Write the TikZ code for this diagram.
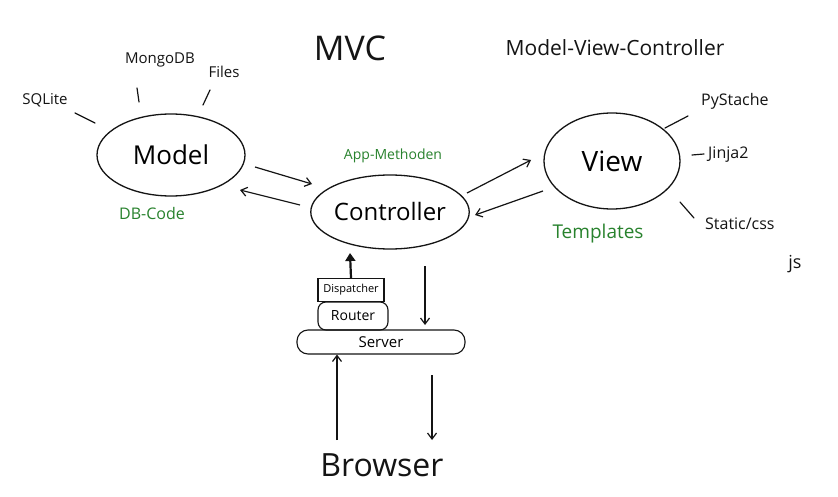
\documentclass[tikz,border=0pt]{standalone}
\usepackage{fontspec}
\setmainfont{Open Sans}
\usetikzlibrary{arrows.meta,shapes.geometric}
\definecolor{pen}{RGB}{20,20,20}
\definecolor{greenpen}{RGB}{40,130,45}
\tikzset{
  ell/.style={draw=pen,ellipse,line width=1.3pt,inner sep=0pt},
  lbl/.style={text=pen,inner sep=1pt},
  glbl/.style={text=greenpen,inner sep=1pt},
  tick/.style={draw=pen,line width=1.2pt,line cap=round},
  arr/.style={draw=pen,line width=1.2pt,-{Straight Barb[length=6pt,width=9pt]}},
  boxx/.style={draw=pen,line width=1.1pt,inner sep=0pt}
}
\begin{document}
\begin{tikzpicture}[x=1pt,y=-1pt]
\useasboundingbox[fill=white] (0,0) rectangle (838,497);
% title
\node[lbl,font=\fontsize{34}{36}\selectfont] (mvc) at (350,48) {MVC};
\node[lbl,font=\fontsize{21}{23}\selectfont] (full) at (615,48) {Model-View-Controller};
% Model
\node[ell,minimum width=148pt,minimum height=82pt,font=\fontsize{26}{28}\selectfont] (model) at (171,155) {Model};
\node[glbl,font=\fontsize{16}{18}\selectfont] (dbcode) at (152,214) {DB-Code};
\node[lbl,font=\fontsize{15}{17}\selectfont] (sqlite) at (45,100) {SQLite};
\node[lbl,font=\fontsize{15}{17}\selectfont] (mongo) at (160,60) {MongoDB};
\node[lbl,font=\fontsize{15}{17}\selectfont] (files) at (224,72) {Files};
\coordinate (s1) at (75,113); \coordinate (s2) at (95,123);
\coordinate (m1) at (137,88); \coordinate (m2) at (139,102);
\coordinate (f1) at (210,90); \coordinate (f2) at (203,105);
\draw[tick] (s1) -- (s2);
\draw[tick] (m1) -- (m2);
\draw[tick] (f1) -- (f2);
% Controller
\node[ell,minimum width=158pt,minimum height=74pt,font=\fontsize{24}{26}\selectfont] (ctrl) at (390,212) {Controller};
\node[glbl,font=\fontsize{14}{16}\selectfont] (app) at (393,156) {App-Methoden};
% View
\node[ell,minimum width=136pt,minimum height=96pt,font=\fontsize{28}{30}\selectfont] (view) at (612,161) {View};
\node[glbl,font=\fontsize{19}{21}\selectfont] (tmpl) at (598,234) {Templates};
\node[lbl,font=\fontsize{16}{18}\selectfont,anchor=west] (pystache) at (700,101) {PyStache};
\node[lbl,font=\fontsize{16}{18}\selectfont,anchor=west] (jinja) at (707,155) {Jinja2};
\node[lbl,font=\fontsize{16}{18}\selectfont,anchor=west] (static) at (704,224) {Static/css};
\node[lbl,font=\fontsize{18}{20}\selectfont] (js) at (795,264) {js};
\coordinate (p1) at (665,128); \coordinate (p2) at (688,116);
\coordinate (j1) at (692,155); \coordinate (j2) at (704,154);
\coordinate (t1) at (680,202); \coordinate (t2) at (694,218);
\draw[tick] (p1) -- (p2);
\draw[tick] (j1) -- (j2);
\draw[tick] (t1) -- (t2);
% arrows model <-> controller
\coordinate (a1) at (255,167); \coordinate (a2) at (312,184);
\coordinate (b1) at (300,205); \coordinate (b2) at (240,190);
\draw[arr] (a1) -- (a2);
\draw[arr] (b1) -- (b2);
% arrows controller <-> view
\coordinate (c1) at (467,193); \coordinate (c2) at (531,160);
\coordinate (d1) at (543,191); \coordinate (d2) at (475,215);
\draw[arr] (c1) -- (c2);
\draw[arr] (d1) -- (d2);
% server stack
\node[boxx,minimum width=66pt,minimum height=23pt,font=\fontsize{11}{12}\selectfont] (disp) at (351,290) {Dispatcher};
\node[boxx,rounded corners=8pt,minimum width=70pt,minimum height=28pt,font=\fontsize{14}{15}\selectfont] (router) at (353,316) {Router};
\node[boxx,rounded corners=11pt,minimum width=168pt,minimum height=24pt,font=\fontsize{15}{16}\selectfont] (server) at (381,342) {Server};
\draw[pen,line width=2.2pt,-{Triangle[length=8pt,width=10pt]}] (disp.north) -- (350,253);
\coordinate (e1) at (425,266); \coordinate (e2) at (425,325);
\draw[arr] (e1) -- (e2);
% browser
\node[lbl,font=\fontsize{32}{34}\selectfont] (browser) at (382,465) {Browser};
\coordinate (g1) at (337,440);
\draw[arr] (g1) -- (server.south -| g1);
\coordinate (h1) at (432,375); \coordinate (h2) at (432,440);
\draw[arr] (h1) -- (h2);
\end{tikzpicture}
\end{document}
